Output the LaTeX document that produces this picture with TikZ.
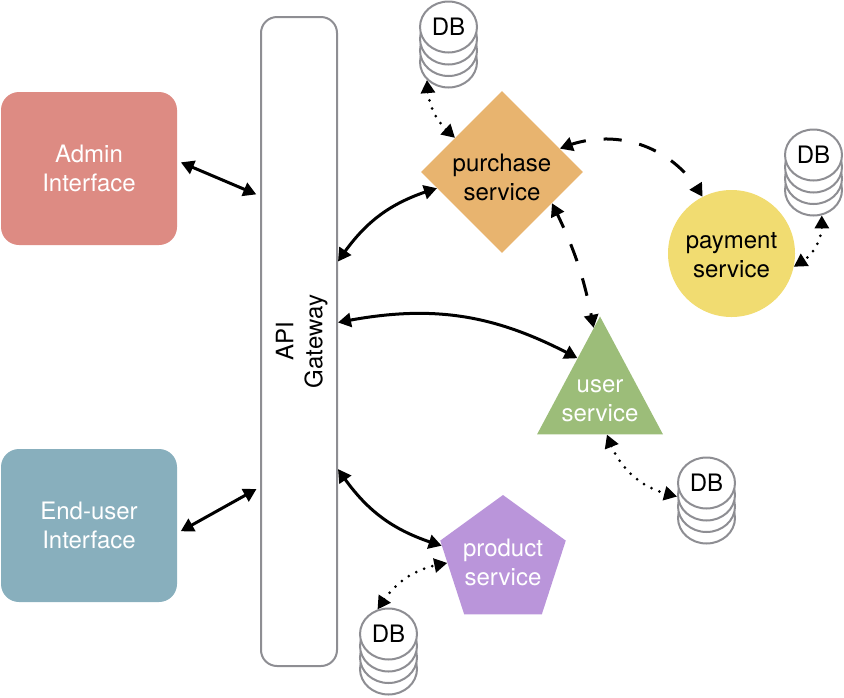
\documentclass[tikz,border=0pt]{standalone}
\usepackage{fontspec}
\setmainfont{TeX Gyre Heros}
\usepackage{xcolor}
\usetikzlibrary{arrows.meta,bending,calc,shapes.geometric}
\definecolor{adminfill}{RGB}{221,139,131}
\definecolor{enduserfill}{RGB}{136,175,189}
\definecolor{purchasefill}{RGB}{232,180,111}
\definecolor{paymentfill}{RGB}{241,220,113}
\definecolor{userfill}{RGB}{156,189,121}
\definecolor{productfill}{RGB}{186,149,218}
\definecolor{rimgray}{RGB}{142,142,147}
\tikzset{
  label/.style={align=center, font=\fontsize{24}{29}\selectfont, inner sep=0pt},
  client/.style={label, rounded corners=18pt, minimum width=176pt, minimum height=153pt, text=white},
  gate/.style={label, draw=rimgray, line width=2pt, rounded corners=16pt, minimum width=76pt, minimum height=649pt},
  disk/.style={ellipse, draw=rimgray, line width=2pt, fill=white, minimum width=57pt, minimum height=51pt, inner sep=0pt},
  syncl/.style={{Triangle[length=13pt,width=14pt]}-{Triangle[length=13pt,width=14pt]}, line width=3pt},
  gap/.style={shorten <=4pt, shorten >=4pt},
  msg/.style={syncl, dash pattern=on 18pt off 18pt, dash phase=3pt},
  store/.style={syncl, line cap=round, dash pattern=on 0pt off 8.5pt}
}
\begin{document}
\begin{tikzpicture}[x=1pt,y=-1pt]
    \useasboundingbox (0,0) rectangle (844,697);

    \node[client, fill=adminfill] (admin) at (89,168.5) {Admin\\Interface};
    \node[client, fill=enduserfill] (enduser) at (89,525.5) {End-user\\Interface};
    \node[gate] (gateway) at (299,341.5) {\hspace*{6pt}\rotatebox{90}{\begin{tabular}{@{}c@{}}API\\Gateway\end{tabular}}};

    \node[diamond, fill=purchasefill, inner sep=0pt, minimum width=162pt, minimum height=162pt] (purchase) at (502,172) {};
    \node[label] (purchasetext) at (502,177.5) {purchase\\service};
    \node[circle, fill=paymentfill, inner sep=0pt, minimum size=127pt] (payment) at (731.5,253.5) {};
    \node[label] (paymenttext) at (731.5,255) {payment\\service};
    \node[isosceles triangle, isosceles triangle apex angle=56, isosceles triangle stretches, shape border rotate=90,
      fill=userfill, inner sep=0pt, minimum width=126pt, minimum height=118pt, anchor=apex] (user) at (600,316) {};
    \node[label, text=white] (usertext) at (600,401) {user\\service};
    \node[regular polygon, regular polygon sides=5, fill=productfill, inner sep=0pt, minimum size=132pt] (product) at (503,561) {};
    \node[label, text=white] (producttext) at (503,562.5) {product\\service};

    % stacks of disks, top disk last
    \foreach \name/\x/\y in {dbpurchase/448.5/27, dbpayment/813.5/155, dbuser/706.5/483, dbproduct/388.5/634} {
      \node[disk] (\name-4) at (\x,\y+35) {};
      \node[disk] (\name-3) at (\x,\y+23.5) {};
      \node[disk] (\name-2) at (\x,\y+12) {};
      \node[disk, label] (\name-1) at (\x,\y) {DB};
    }

    \draw[syncl, gap] (admin.5) -- (gateway.105);
    \draw[syncl, gap] (enduser.355) -- (gateway.255);
    \draw[syncl] (gateway.64) to[bend left=20] (purchase.194);
    \draw[syncl] (gateway.26) to[bend left=20] ($(user.apex)!0.356!(user.left corner)$);
    \draw[syncl] (gateway.287) to[bend right=20] (product.166);

    \draw[msg] (purchase.22) to[bend left=42] (payment.117);
    \draw[msg] (purchase.328) to[bend left=8] ($(user.apex)!0.1!(user.left corner)$);

    \draw[store] (dbpurchase-4.220) to[bend right=25] (purchase.144);
    \draw[store] (dbpayment-4.288) to[bend left=35] (payment.348);
    \draw[store] ($(user.left corner)!0.555!(user.right corner)$) to[bend right=30] (dbuser-2.183);
    \draw[store] (dbproduct-1.114) to[bend left=25] (product.182);
  \end{tikzpicture}
\end{document}
